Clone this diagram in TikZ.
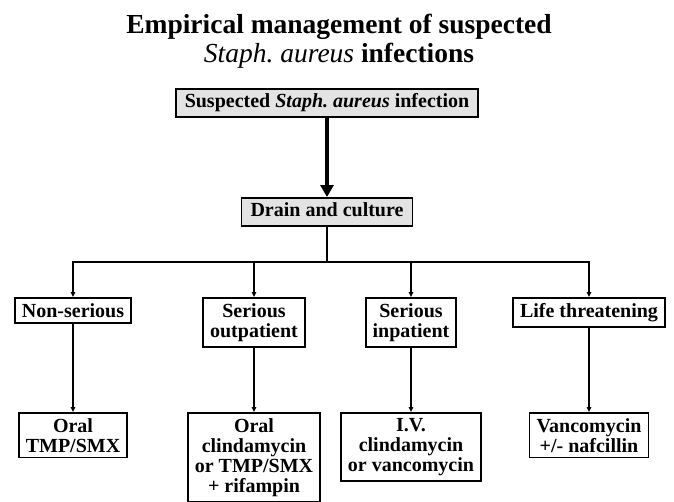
\documentclass[tikz,border=0pt]{standalone}
\usepackage{fontspec}
\setmainfont{Liberation Serif}
\usetikzlibrary{arrows.meta,positioning}

\begin{document}
\begin{tikzpicture}[x=1pt,y=-1pt]
\tikzset{
  box/.style={draw,line width=1.8pt,align=center,inner xsep=7pt,inner ysep=5.3pt,
    font=\bfseries\fontsize{20}{20}\selectfont},
  greybox/.style={box,fill=gray!22,inner xsep=9pt,text height=13.6pt,text depth=4pt},
  link/.style={line width=1.4pt,-{Triangle[length=5pt,width=4.5pt]}},
  bigarrow/.style={line width=3.6pt,-{Triangle[length=12pt,width=13pt]}},
  titlefont/.style={font=\bfseries\fontsize{27.5}{29}\selectfont}
}

\def\W{674}
\def\H{501}
\def\rowa{297}
\def\rowb{412}

\clip (0,0) rectangle (\W,\H);
\fill[white] (0,0) rectangle (\W,\H);

% title
\node[titlefont,anchor=base] (title) at (339,33) {Empirical management of suspected};
\node[titlefont,anchor=base] (subtitle) at (339,62) {{\mdseries\itshape Staph.\ aureus} infections};

% top of the chart
\node[greybox] (suspect) at (327,103) {Suspected {\itshape Staph.\ aureus} infection};
\node[greybox] (drain) at (327,212) {Drain and culture};
\coordinate (split) at (327,262);

% severity
\node[box,anchor=north] (nonser) at (73,\rowa) {Non-serious};
\node[box,anchor=north] (outpat) at (254,\rowa) {Serious\\outpatient};
\node[box,anchor=north] (inpat) at (411,\rowa) {Serious\\inpatient};
\node[box,anchor=north] (lifethr) at (589,\rowa) {Life threatening};

% treatment
\node[box,anchor=north] (oraltmp) at (73,\rowb) {Oral\\TMP/SMX};
\node[box,anchor=north] (oralclin) at (254,\rowb) {Oral\\clindamycin\\or TMP/SMX\\+ rifampin};
\node[box,anchor=north] (ivclin) at (411,\rowb) {I.V.\\clindamycin\\or vancomycin};
\node[box,anchor=north] (vanco) at (589,\rowb) {Vancomycin\\+/- nafcillin};

\draw[bigarrow] (suspect) -- (drain);
\draw[line width=1.1pt] (drain) -- (split);

\draw[link] (split) -| (nonser);
\draw[link] (split) -| (outpat);
\draw[link] (split) -| (inpat);
\draw[link] (split) -| (lifethr);

\draw[link] (nonser) -- (oraltmp);
\draw[link] (outpat) -- (oralclin);
\draw[link] (inpat) -- (ivclin);
\draw[link] (lifethr) -- (vanco);
\end{tikzpicture}
\end{document}
